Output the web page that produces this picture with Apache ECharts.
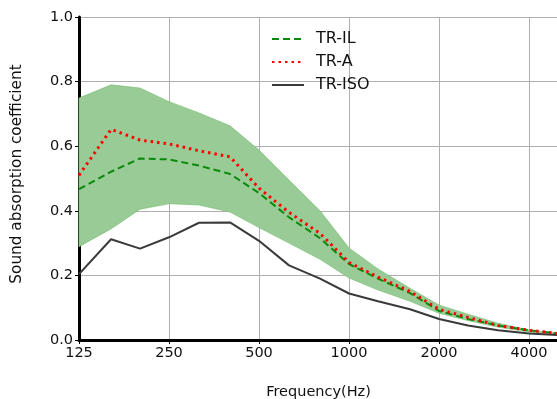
<!DOCTYPE html>
<html><head><meta charset="utf-8">
<script src="https://cdn.jsdelivr.net/npm/echarts@6/dist/echarts.min.js"></script>
<style>html,body{margin:0;padding:0;background:#fff}#c{width:557px;height:399px}</style>
</head><body><div id="c"></div>
<script>
var freqs = [125,160,200,250,315,400,500,630,800,1000,1250,1600,2000,2500,3150,4000,5000];
var tickLabels = [125,250,500,1000,2000,4000];
var bandLower = [0.289,0.344,0.405,0.422,0.418,0.396,0.348,0.300,0.250,0.192,0.155,0.120,0.083,0.060,0.040,0.025,0.015];
var bandUpper = [0.749,0.790,0.780,0.738,0.703,0.663,0.588,0.495,0.400,0.285,0.220,0.160,0.108,0.080,0.052,0.031,0.020];
var trIL  = [0.467,0.521,0.562,0.559,0.540,0.514,0.455,0.380,0.315,0.235,0.190,0.145,0.090,0.065,0.045,0.030,0.020];
var trA   = [0.510,0.652,0.619,0.607,0.586,0.567,0.470,0.395,0.330,0.240,0.195,0.150,0.095,0.070,0.045,0.030,0.020];
var trISO = [0.204,0.312,0.283,0.318,0.363,0.364,0.307,0.231,0.190,0.144,0.120,0.095,0.065,0.045,0.030,0.020,0.015];

function lx(f){ return Math.log2(f/125); }
function pts(arr){ return freqs.map(function(f,i){ return [lx(f), arr[i]]; }); }
var bandData = freqs.map(function(f,i){ return [lx(f), bandLower[i], bandUpper[i]]; });

var chart = echarts.init(document.getElementById('c'));
var font = 'DejaVu Sans';
chart.setOption({
  animation:false,
  textStyle:{fontFamily:font},
  grid:{left:79, top:17, width:479, height:323, containLabel:false, outerBoundsMode:'none'},
  legend:{
    data:['TR-IL','TR-A','TR-ISO'], orient:'vertical', left:266, top:26,
    itemWidth:32, itemHeight:14, itemGap:7,
    itemStyle:{opacity:0},
    textStyle:{fontSize:16, color:'#111', fontFamily:font, padding:[0,0,0,7]}
  },
  xAxis:{
    type:'value', min:0, max:lx(5000), interval:1,
    name:'Frequency(Hz)', nameLocation:'middle', nameGap:45,
    nameTextStyle:{fontSize:14.5, color:'#111', fontFamily:font},
    axisLine:{show:true, onZero:false, lineStyle:{color:'#000', width:3}},
    axisTick:{show:true, length:4, lineStyle:{color:'#000'}},
    axisLabel:{fontSize:14.5, color:'#111', margin:6, showMaxLabel:false,
      formatter:function(v){ var f = Math.round(125*Math.pow(2,v)); return tickLabels.indexOf(f)>=0 ? String(f) : ''; }},
    splitLine:{show:true, lineStyle:{color:'#b0b0b0', width:1}}
  },
  yAxis:{
    type:'value', min:0, max:1, interval:0.2,
    name:'Sound absorption coefficient', nameLocation:'middle', nameGap:54, nameRotate:90,
    nameTextStyle:{fontSize:15.3, color:'#111', fontFamily:font, padding:[0,0,0,9]},
    axisLine:{show:true, lineStyle:{color:'#000', width:3}},
    axisTick:{show:true, length:4, lineStyle:{color:'#000'}},
    axisLabel:{fontSize:14.5, color:'#111', margin:6, formatter:function(v){return v.toFixed(1);}},
    splitLine:{show:true, lineStyle:{color:'#b0b0b0', width:1}}
  },
  series:[
    {name:'band', type:'custom', data:bandData, silent:true, z:1,
     encode:{x:0, y:[1,2]},
     renderItem:function(params, api){
       if (params.dataIndex !== 0) return null;
       var p = [];
       for (var i=0;i<bandData.length;i++) p.push(api.coord([bandData[i][0], bandData[i][2]]));
       for (var j=bandData.length-1;j>=0;j--) p.push(api.coord([bandData[j][0], bandData[j][1]]));
       return {type:'polygon', shape:{points:p},
         style:{fill:'#98cb95', stroke:'#7fc07b', lineWidth:0.7}};
     }},
    {name:'TR-IL', type:'line', data:pts(trIL), symbol:'none', z:3,
     itemStyle:{color:'#0a8a0a'}, lineStyle:{color:'#0a8a0a', width:2, type:[7,4]}},
    {name:'TR-A', type:'line', data:pts(trA), symbol:'none', z:4,
     itemStyle:{color:'#ff0000'}, lineStyle:{color:'#ff0000', width:3, type:[2.5,4]}},
    {name:'TR-ISO', type:'line', data:pts(trISO), symbol:'none', z:3,
     itemStyle:{color:'#3a3a3a'}, lineStyle:{color:'#3a3a3a', width:2}}
  ]
});
</script></body></html>
